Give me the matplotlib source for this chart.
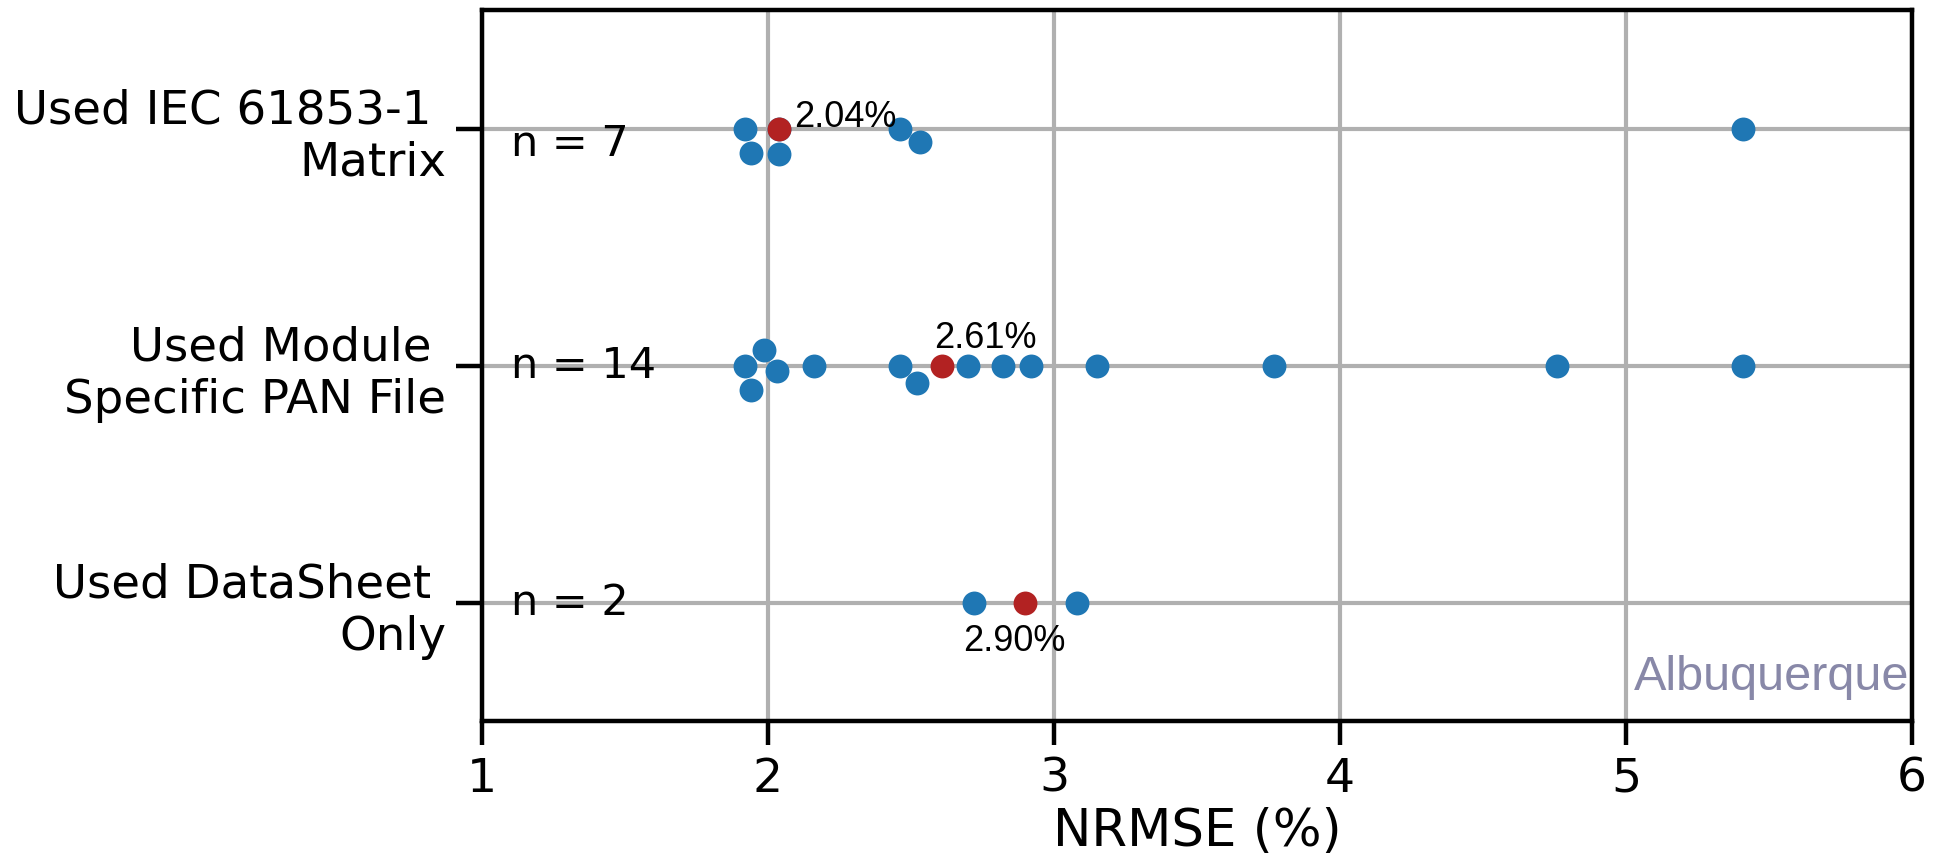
import matplotlib
matplotlib.use('Agg')
import matplotlib.pyplot as plt
import numpy as np
import pandas as pd
import seaborn as sns

# categories (top to bottom) and NRMSE values
categories = ['Used IEC 61853-1 \nMatrix',
              'Used Module \nSpecific PAN File',
              'Used DataSheet \nOnly']
iec_matrix = [1.92, 1.94, 2.04, 2.04, 2.46, 2.53, 5.41]
pan_file = [1.92, 1.94, 1.985, 2.03, 2.16, 2.46, 2.52, 2.70, 2.82, 2.92,
            3.15, 3.77, 4.76, 5.41]
datasheet = [2.72, 3.08]
series = [iec_matrix, pan_file, datasheet]
xticks = [1, 2, 3, 4, 5, 6]

df = pd.DataFrame({
    'nrmse': np.concatenate(series),
    'method': np.repeat(categories, [len(s) for s in series]),
})
medians = [np.median(s) for s in series]

fig = plt.figure(figsize=(9.71, 4.275), dpi=200)
ax = fig.add_axes([0.2482, 0.1567, 0.7364, 0.8316])

sns.swarmplot(data=df, x='nrmse', y='method', order=categories, orient='h',
              color='#1f77b4', size=8.6, linewidth=0, ax=ax, zorder=3)
ax.scatter(medians, range(len(categories)), s=8.6 ** 2, color='#b22222',
           linewidths=0, zorder=4)

# median labels, offsets in points (dx, dy, ha)
label_offsets = [(5.2, 0.7, 'left'), (-3.1, 6.4, 'left'), (-3.9, -17.6, 'center')]
for i, (m, (dx, dy, ha)) in enumerate(zip(medians, label_offsets)):
    ax.annotate(f'{m:.2f}%', (m, i), xytext=(dx, dy), textcoords='offset points',
                ha=ha, va='baseline', fontsize=13, family='Liberation Sans',
                zorder=5)

# sample counts
n_offsets = [-9.8, -4.6, -4.6]
for i, (s, dy) in enumerate(zip(series, n_offsets)):
    ax.annotate(f'n = {len(s)}', (1.1, i), xytext=(0, dy),
                textcoords='offset points', ha='left', va='baseline',
                fontsize=15.5)

ax.text(0.998, 0.0436, 'Albuquerque', transform=ax.transAxes, ha='right',
        va='baseline', fontsize=17.5, family='Liberation Sans', color='#8888a8')

ax.set_xlim(1, 6)
ax.set_ylim(2.5, -0.5)
ax.set_xticks(xticks)
ax.set_yticks(range(len(categories)))
ax.set_yticklabels(categories)
ax.set_xlabel('NRMSE (%)', fontsize=18.5, labelpad=2)
ax.set_ylabel('')

ax.grid(True, color='#b0b0b0', linewidth=1.5, zorder=0)
ax.set_axisbelow(True)
for sp in ax.spines.values():
    sp.set_visible(True)
    sp.set_linewidth(1.6)
    sp.set_color('black')
ax.tick_params(axis='x', length=8.6, width=1.6, labelsize=17, pad=4.3)
ax.tick_params(axis='y', length=9.4, width=1.6, labelsize=16.8, pad=3.6)

fig.savefig('out.png', dpi=200)
plt.close(fig)
